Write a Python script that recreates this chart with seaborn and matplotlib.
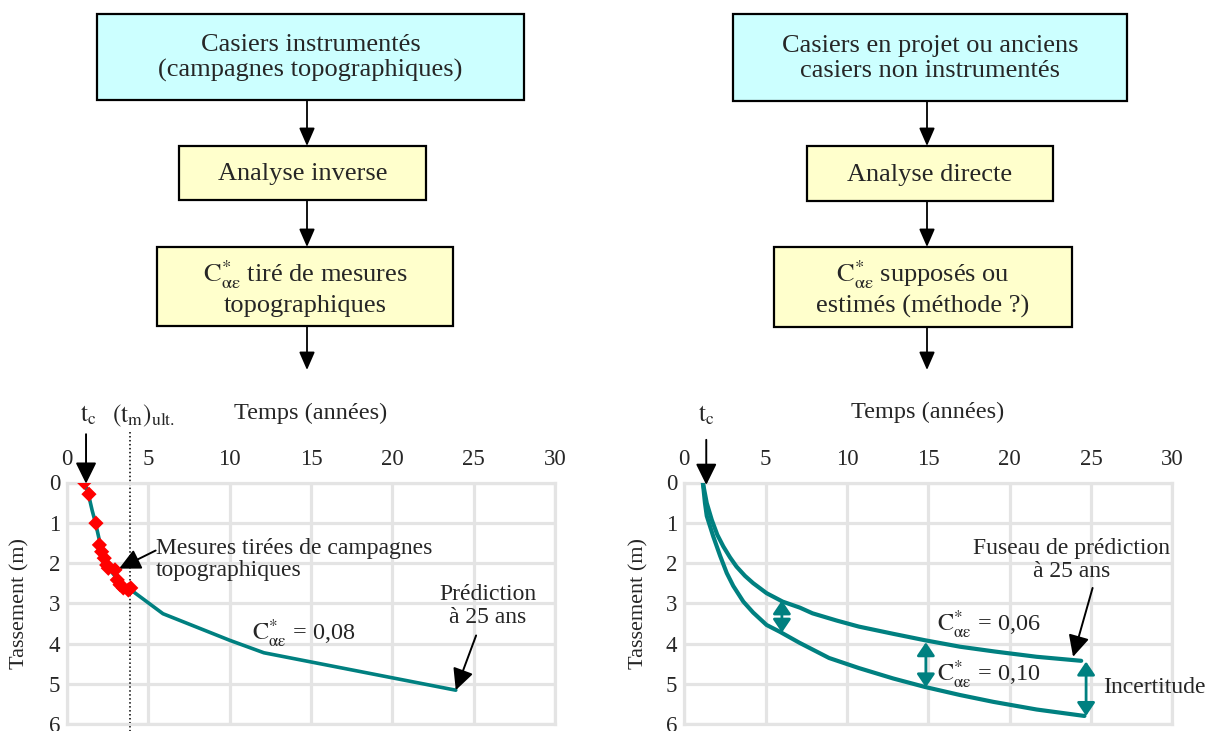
import matplotlib
matplotlib.use("Agg")
import matplotlib.pyplot as plt
import seaborn as sns
from matplotlib.patches import Rectangle

# ===============================
# DATA
# ===============================
year_ticks = [0, 5, 10, 15, 20, 25, 30]
settle_ticks = [0, 1, 2, 3, 4, 5, 6]

# left chart : measured points (campagnes topographiques)
meas_t = [1.06, 1.35, 1.78, 1.99, 2.13, 2.29, 2.44, 2.54, 2.95, 3.09, 3.26, 3.46, 3.77, 3.92]
meas_s = [0.0, 0.29, 1.01, 1.55, 1.72, 1.88, 2.05, 2.13, 2.17, 2.42, 2.54, 2.62, 2.67, 2.62]

# left chart : fitted / predicted curve C = 0,08
fit_t = [1.08, 1.2, 1.35, 1.55, 1.75, 2.0, 2.35, 2.8, 3.3, 3.9, 5.9, 10.0, 12.1, 23.9]
fit_s = [0.0, 0.15, 0.35, 0.7, 1.0, 1.45, 1.92, 2.25, 2.5, 2.66, 3.26, 3.92, 4.23, 5.16]

tc_left = 1.17
tm_ult = 3.88

# right chart : two predictions (C = 0,06 upper, C = 0,10 lower)
up_t = [1.14, 1.38, 1.69, 2.03, 2.4, 2.81, 3.21, 3.73, 4.23, 5.06, 6.05, 7.11, 7.88,
        9.37, 10.73, 12.85, 14.8, 16.95, 19.1, 21.66, 24.4]
up_s = [0.0, 0.51, 0.93, 1.3, 1.59, 1.86, 2.09, 2.32, 2.5, 2.75, 2.96, 3.11, 3.25,
        3.43, 3.58, 3.76, 3.92, 4.08, 4.2, 4.33, 4.43]
lo_t = [1.14, 1.27, 1.38, 1.78, 2.2, 2.61, 3.01, 3.63, 4.23, 5.06, 5.88, 7.07, 8.9,
        10.73, 12.85, 14.8, 16.95, 19.0, 21.66, 24.6]
lo_s = [0.0, 0.51, 0.83, 1.34, 1.82, 2.25, 2.57, 2.96, 3.23, 3.54, 3.71, 3.98, 4.36,
        4.61, 4.87, 5.08, 5.28, 5.45, 5.64, 5.8]

tc_right = 1.35

# uncertainty arrows between the two curves
unc_t = [6.0, 14.85, 24.7]
unc_top = [2.93, 3.97, 4.45]
unc_bot = [3.73, 5.09, 5.8]

TEAL = "#008080"
GRID = "#e4e4e4"
CAE = r"$\mathrm{C}^{*}_{\mathrm{\alpha\varepsilon}}$"

# ===============================
# STYLE
# ===============================
sns.set_style("white")
plt.rcParams["font.family"] = ["Liberation Serif", "DejaVu Serif"]
plt.rcParams["mathtext.fontset"] = "stix"

fig = plt.figure(figsize=(12.1, 7.31), dpi=100)

# ===============================
# FLOWCHART (pixel coordinates)
# ===============================
flow = fig.add_axes([0, 0, 1, 1], zorder=0)
flow.set_xlim(0, 1210)
flow.set_ylim(731, 0)
flow.axis("off")
flow.patch.set_alpha(0)

boxes = [
    (97, 14, 524, 100, "#ccffff", "Casiers instrumentés\n(campagnes topographiques)"),
    (179, 146, 426, 200, "#ffffcc", "Analyse inverse"),
    (157, 247, 453, 326, "#ffffcc", CAE + " tiré de mesures\ntopographiques"),
    (733, 14, 1127, 101, "#ccffff", "Casiers en projet ou anciens\ncasiers non instrumentés"),
    (807, 146, 1053, 201, "#ffffcc", "Analyse directe"),
    (774, 247, 1072, 327, "#ffffcc", CAE + " supposés ou\nestimés (méthode ?)"),
]
for x0, y0, x1, y1, fc, txt in boxes:
    flow.add_patch(Rectangle((x0, y0), x1 - x0, y1 - y0, facecolor=fc,
                             edgecolor="black", lw=1.6))
    flow.text((x0 + x1) / 2, (y0 + y1) / 2 + 1, txt, ha="center", va="center",
              fontsize=19, linespacing=1.2)

flow_arrows = [(307, 100, 146), (307, 200, 247), (307, 326, 370),
               (927, 101, 146), (927, 201, 247), (927, 327, 370)]
for x, ya, yb in flow_arrows:
    flow.annotate("", xy=(x, yb), xytext=(x, ya),
                  arrowprops=dict(arrowstyle="-|>,head_length=0.55,head_width=0.24",
                                  color="black", lw=1.3, mutation_scale=20,
                                  shrinkA=0, shrinkB=0))


# ===============================
# CHARTS
# ===============================
def base_axes(rect):
    ax = fig.add_axes(rect, zorder=2)
    ax.set_xlim(0, 30)
    ax.set_ylim(6, 0)
    ax.set_xticks(year_ticks)
    ax.set_yticks(settle_ticks)
    ax.xaxis.tick_top()
    ax.tick_params(axis="x", length=0, pad=9, labelsize=16.5)
    ax.tick_params(axis="y", length=0, pad=5, labelsize=16.5)
    ax.grid(True, color=GRID, lw=2.3)
    for sp in ax.spines.values():
        sp.set_color(GRID)
        sp.set_linewidth(2.3)
    ax.set_axisbelow(True)
    return ax


black_arrow = dict(arrowstyle="-|>,head_length=0.65,head_width=0.32", color="black",
                   lw=1.4, mutation_scale=20, shrinkA=0, shrinkB=0)
teal_arrow = dict(arrowstyle="<|-|>,head_length=0.4,head_width=0.27", color=TEAL,
                  lw=2.0, mutation_scale=20, shrinkA=0, shrinkB=0)

# ---- left chart
axl = base_axes([67 / 1210, 7 / 731, 488 / 1210, 241.5 / 731])
sns.lineplot(x=fit_t, y=fit_s, ax=axl, sort=False, color=TEAL, lw=2.6, zorder=3)
sns.scatterplot(x=meas_t, y=meas_s, ax=axl, marker="D", s=60, color="red",
                edgecolor="none", zorder=4)
axl.plot([tm_ult, tm_ult], [-1.25, 6.3], color="black", lw=1.1, ls=(0, (1, 1.6)),
         clip_on=False, zorder=2)
axl.set_xlabel("")
axl.set_ylabel("")
axl.text(-0.096, 0.5, "Tassement (m)", rotation=90, ha="center", va="center",
         fontsize=16, transform=axl.transAxes)
axl.text(15.0, -1.72, "Temps (années)", ha="center", va="center", fontsize=17.5)
axl.text(1.3, -1.66, r"$\mathrm{t_c}$", ha="center", va="center", fontsize=18)
axl.text(4.72, -1.66, r"$\mathrm{(t_m)_{ult.}}$", ha="center", va="center", fontsize=18)
axl.annotate("", xy=(tc_left, 0.03), xytext=(tc_left, -1.2), arrowprops=black_arrow,
             annotation_clip=False)
axl.text(5.45, 1.91, "Mesures tirées de campagnes\ntopographiques", ha="left",
         va="center", fontsize=17, linespacing=1.1)
axl.annotate("", xy=(3.2, 2.14), xytext=(5.45, 1.69), arrowprops=black_arrow)
axl.text(11.35, 3.75, CAE + " = 0,08", ha="left", va="center", fontsize=17.5)
axl.text(25.86, 3.07, "Prédiction\nà 25 ans", ha="center", va="center",
         fontsize=17, linespacing=1.15)
axl.annotate("", xy=(fit_t[-1], fit_s[-1]), xytext=(25.15, 3.8), arrowprops=black_arrow)

# ---- right chart
axr = base_axes([684.3 / 1210, 7 / 731, 488 / 1210, 241.5 / 731])
sns.lineplot(x=up_t, y=up_s, ax=axr, sort=False, color=TEAL, lw=3.0, zorder=3)
sns.lineplot(x=lo_t, y=lo_s, ax=axr, sort=False, color=TEAL, lw=3.0, zorder=3)
for t, a, b in zip(unc_t, unc_top, unc_bot):
    axr.annotate("", xy=(t, b), xytext=(t, a), arrowprops=teal_arrow)
axr.set_xlabel("")
axr.set_ylabel("")
axr.text(-0.093, 0.5, "Tassement (m)", rotation=90, ha="center", va="center",
         fontsize=16, transform=axr.transAxes)
axr.text(14.98, -1.74, "Temps (années)", ha="center", va="center", fontsize=17.5)
axr.text(1.33, -1.66, r"$\mathrm{t_c}$", ha="center", va="center", fontsize=18)
axr.annotate("", xy=(tc_right, 0.06), xytext=(tc_right, -1.06), arrowprops=black_arrow,
             annotation_clip=False)
axr.text(23.8, 1.93, "Fuseau de prédiction\nà 25 ans", ha="center", va="center",
         fontsize=17, linespacing=1.15)
axr.annotate("", xy=(23.9, 4.33), xytext=(25.1, 2.62), arrowprops=black_arrow)
axr.text(15.55, 3.54, CAE + " = 0,06", ha="left", va="center", fontsize=17.5)
axr.text(15.55, 4.77, CAE + " = 0,10", ha="left", va="center", fontsize=17.5)
axr.text(25.75, 5.09, "Incertitude", ha="left", va="center", fontsize=17, clip_on=False)

fig.savefig("out.png", dpi=100)
